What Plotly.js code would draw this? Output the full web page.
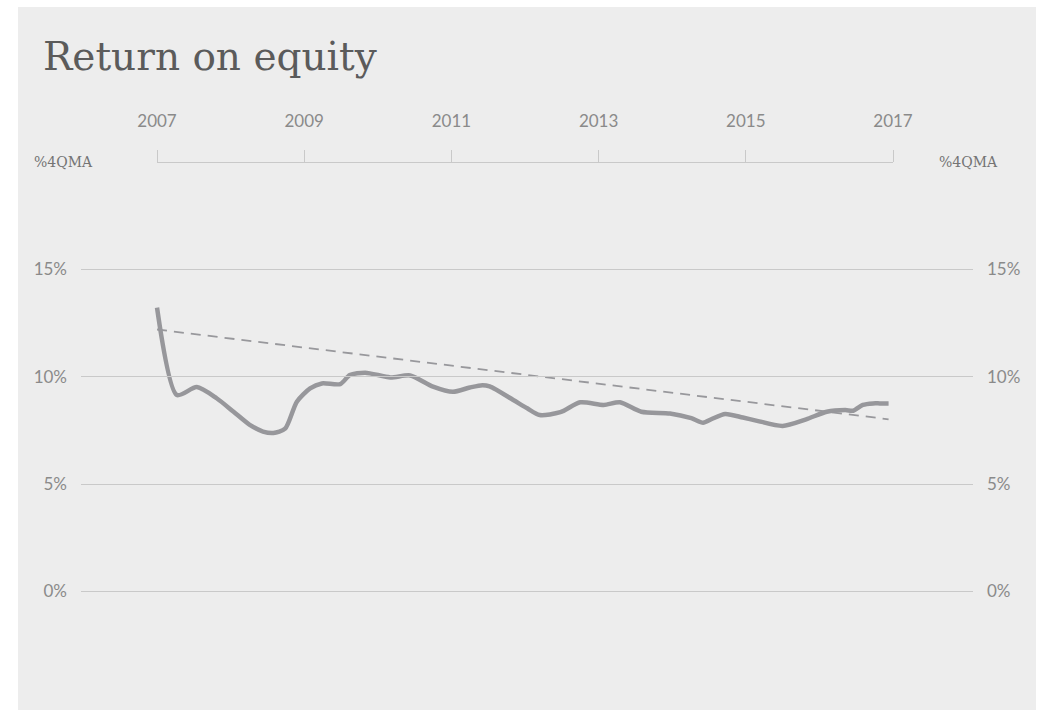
<!DOCTYPE html>
<html>
<head>
<meta charset="utf-8">
<script src="https://cdn.plot.ly/plotly-3.0.1.min.js"></script>
<style>
  html, body { margin: 0; padding: 0; background: #ffffff; }
  #chart { position: absolute; left: 18px; top: 7px; width: 1018px; height: 703px; background: #ededed; }
</style>
</head>
<body>
<div id="chart"></div>
<script>
// Return on equity, % four-quarter moving average
const roeYears = [2007.00, 2007.27, 2007.54, 2007.81, 2008.04, 2008.26, 2008.44, 2008.58,
  2008.74, 2008.90, 2009.08, 2009.24, 2009.49, 2009.62, 2009.83, 2010.17, 2010.44,
  2010.75, 2011.02, 2011.25, 2011.42, 2011.52, 2011.84, 2012.03, 2012.20, 2012.48,
  2012.75, 2013.07, 2013.29, 2013.58, 2013.97, 2014.26, 2014.42, 2014.53, 2014.72,
  2014.96, 2015.14, 2015.50, 2015.82, 2016.10, 2016.35, 2016.46, 2016.59, 2016.73,
  2016.82, 2016.94];
const roeValues = [13.22, 9.15, 9.52, 9.00, 8.37, 7.76, 7.45, 7.38,
  7.58, 8.84, 9.46, 9.69, 9.66, 10.08, 10.19, 9.97, 10.06,
  9.54, 9.30, 9.50, 9.61, 9.55, 8.92, 8.53, 8.22, 8.35,
  8.81, 8.69, 8.81, 8.37, 8.29, 8.07, 7.86, 8.02, 8.27,
  8.10, 7.96, 7.71, 8.02, 8.37, 8.45, 8.42, 8.69, 8.76,
  8.76, 8.76];
const trendYears = [2007.00, 2016.94];
const trendValues = [12.20, 8.02];

const topTickVals = [2007, 2009, 2011, 2013, 2015, 2017];
const topTickText = ['2007', '2009', '2011', '2013', '2015', '2017'];
const yTickVals = [0, 5, 10, 15];
const yTickText = ['0%', '5%', '10%', '15%'];
const unitLabel = '%4QMA';
const titleText = 'Return on equity';

const tickFont = { family: 'Lato, "Open Sans", sans-serif', size: 17, color: '#8a8a8a' };

const traces = [
  {
    x: trendYears, y: trendValues, type: 'scatter', mode: 'lines',
    line: { color: '#98989c', width: 1.8, dash: '10px,7px' },
    hoverinfo: 'skip', showlegend: false
  },
  {
    x: roeYears, y: roeValues, type: 'scatter', mode: 'lines',
    line: { color: '#97979b', width: 4.5, shape: 'spline', smoothing: 0.7 },
    showlegend: false
  },
  {
    x: [2007], y: [null], xaxis: 'x2', yaxis: 'y', type: 'scatter', mode: 'lines',
    hoverinfo: 'skip', showlegend: false
  },
  {
    x: [2007], y: [null], xaxis: 'x', yaxis: 'y2', type: 'scatter', mode: 'lines',
    hoverinfo: 'skip', showlegend: false
  }
];

const plotL = 63, plotW = 892;
const layout = {
  width: 1018, height: 703,
  paper_bgcolor: '#ededed', plot_bgcolor: 'rgba(0,0,0,0)',
  margin: { l: plotL, r: 1018 - plotL - plotW, t: 155, b: 96.5, pad: 0 },
  title: {
    text: titleText,
    font: { family: '"DejaVu Serif", serif', size: 39, color: '#5b5b5b' },
    xref: 'container', x: 25 / 1018, xanchor: 'left',
    yref: 'container', y: 1 - 36 / 703, yanchor: 'top'
  },
  xaxis: {
    range: [2005.967, 2018.087], visible: false, fixedrange: true
  },
  xaxis2: {
    domain: [(157 - 81) / plotW, (893 - 81) / plotW],
    range: [2007, 2017], anchor: 'free', position: 1, side: 'top',
    tickmode: 'array', tickvals: topTickVals, ticktext: topTickText,
    ticks: 'outside', ticklen: 12, tickcolor: '#c9c9c9', tickwidth: 1,
    showline: true, linecolor: '#c9c9c9', linewidth: 1,
    showgrid: false, zeroline: false, tickfont: tickFont, ticklabelstandoff: 16
  },
  yaxis: {
    range: [-1, 20], tickmode: 'array', tickvals: yTickVals, ticktext: yTickText,
    showgrid: true, gridcolor: '#c9c9c9', gridwidth: 1, zeroline: false,
    showline: false, ticks: '', tickfont: tickFont, ticklabelstandoff: 13
  },
  yaxis2: {
    range: [-1, 20], overlaying: 'y', side: 'right', anchor: 'x',
    tickmode: 'array', tickvals: yTickVals, ticktext: yTickText,
    showgrid: false, zeroline: false, showline: false, ticks: '',
    tickfont: tickFont, ticklabelstandoff: 13
  },
  annotations: [
    {
      text: unitLabel, xref: 'paper', yref: 'paper',
      x: (14 - plotL) / plotW, y: 1, xanchor: 'left', yanchor: 'middle',
      showarrow: false, font: { family: '"DejaVu Serif", serif', size: 14, color: '#747474' }
    },
    {
      text: unitLabel, xref: 'paper', yref: 'paper',
      x: (919 - plotL) / plotW, y: 1, xanchor: 'left', yanchor: 'middle',
      showarrow: false, font: { family: '"DejaVu Serif", serif', size: 14, color: '#747474' }
    }
  ],
  showlegend: false
};

Plotly.newPlot('chart', traces, layout, { displayModeBar: false, staticPlot: true });
</script>
</body>
</html>
